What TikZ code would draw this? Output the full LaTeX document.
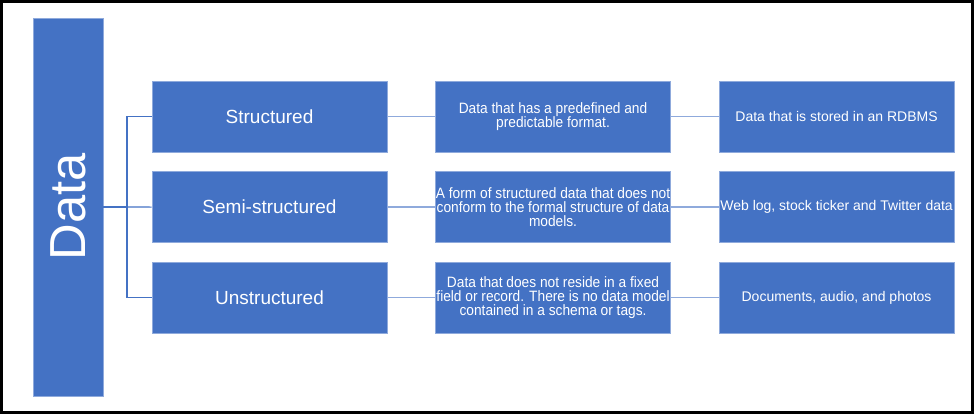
\documentclass[tikz,border=0pt]{standalone}
\usepackage{fontspec}
\setmainfont{Liberation Sans}
\newfontfamily\narrowfont[FakeStretch=0.915]{Liberation Sans}
\usetikzlibrary{positioning}
\definecolor{boxblue}{RGB}{68,114,196}
\definecolor{boxedge}{RGB}{143,170,220}
\definecolor{linkblue}{RGB}{143,170,220}
\definecolor{forkblue}{RGB}{68,114,196}
\tikzset{
  databox/.style = {shape=rectangle, draw=boxedge, fill=boxblue,
                    text=white, rotate=90, inner sep=0pt,
                    minimum width=283.5pt, minimum height=52.5pt,
                    font=\fontsize{38}{40}\selectfont},
  catbox/.style = {shape=rectangle, draw=boxedge, fill=boxblue,
                   text=white, inner sep=0pt,
                   minimum width=176.25pt, minimum height=53.25pt,
                   font=\fontsize{14.25}{16}\selectfont},
  descbox/.style = {catbox, align=center,
                    font=\narrowfont\fontsize{11.25}{10.7}\selectfont},
  samplebox/.style = {catbox, font=\fontsize{10.5}{12}\selectfont},
  fork/.style = {draw=forkblue, line width=0.8pt},
  link/.style = {draw=linkblue, line width=0.9pt}
}
\begin{document}
\begin{tikzpicture}[x=0.75pt, y=-0.75pt]
            \useasboundingbox (0,0) rectangle (974,414);
            \draw [line width=1.9pt] (1.25,1.25) rectangle (972.75,412.75);

            \node (data) [databox] at (68,207) {Data};
            \node (struct) [catbox] at (269.5,116.5) {Structured};
            \node (semi) [catbox, below=14.25pt of struct] {Semi-structured};
            \node (unstruct) [catbox, below=14.25pt of semi] {Unstructured};

            \node (structdesc) [descbox, right=36pt of struct] {Data that has a predefined and\\predictable format.};
            \node (semidesc) [descbox, right=36pt of semi] {A form of structured data that does not\\conform to the formal structure of data\\models.};
            \node (unstructdesc) [descbox, right=36pt of unstruct] {Data that does not reside in a fixed\\field or record. There is no data model\\contained in a schema or tags.};

            \node (structex) [samplebox, right=36pt of structdesc] {Data that is stored in an RDBMS};
            \node (semiex) [samplebox, right=36pt of semidesc] {Web log, stock ticker and Twitter data};
            \node (unstructex) [samplebox, right=36pt of unstructdesc] {Documents, audio, and photos};

            \coordinate (fork) at (127,207);
            \draw [fork] (data.south) -- (fork);
            \draw [fork] (fork) |- (struct.west);
            \draw [fork] (fork) -- (semi.west);
            \draw [fork] (fork) |- (unstruct.west);

            \draw [link] (struct) -- (structdesc);
            \draw [link] (semi) -- (semidesc);
            \draw [link] (unstruct) -- (unstructdesc);
            \draw [link] (structdesc) -- (structex);
            \draw [link] (semidesc) -- (semiex);
            \draw [link] (unstructdesc) -- (unstructex);
        \end{tikzpicture}
\end{document}
